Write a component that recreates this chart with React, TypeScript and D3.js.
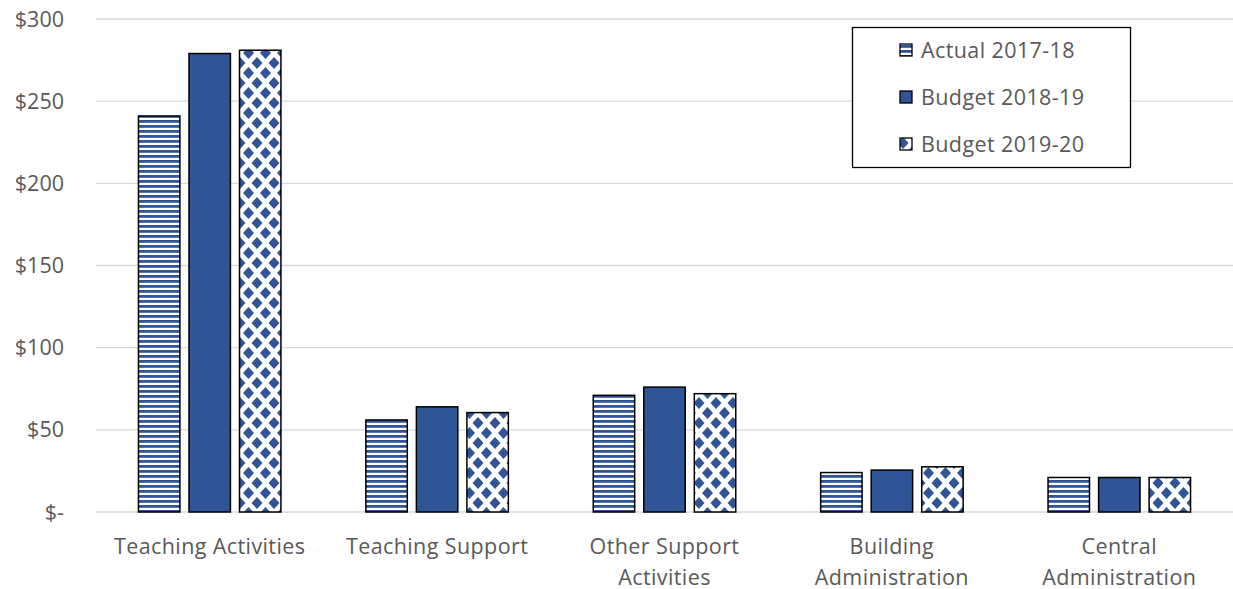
import React from "react";
import * as d3 from "d3";

const categories = [
  ["Teaching Activities"],
  ["Teaching Support"],
  ["Other Support", "Activities"],
  ["Building", "Administration"],
  ["Central", "Administration"],
];
const seriesNames = ["Actual 2017-18", "Budget 2018-19", "Budget 2019-20"];
const actual1718 = [241, 56, 71, 24, 21];
const budget1819 = [279, 64, 76, 25.5, 21];
const budget1920 = [281, 60.5, 72, 27.5, 21];
const yTicks = [0, 50, 100, 150, 200, 250, 300];
const yTickLabels = ["$-", "$50", "$100", "$150", "$200", "$250", "$300"];

const W = 1233;
const H = 589;
const BLUE = "#2F5597";
const FONT = "'Open Sans', 'Noto Sans', sans-serif";
const FS = 21.5;
const LS = 0.4;

export default function App() {
  const seriesValues = [actual1718, budget1819, budget1920];
  const fills = ["url(#stripes)", BLUE, "url(#diamonds)"];
  const x0 = d3
    .scaleBand<number>()
    .domain(categories.map((_, i) => i))
    .range([96, 1233])
    .padding(0);
  const groupW = 142.5;
  const x1 = d3
    .scaleBand<number>()
    .domain([0, 1, 2])
    .range([0, groupW])
    .paddingInner(0.18);
  const y = d3.scaleLinear().domain([0, 300]).range([512, 19]);

  const dia = (cx: number, cy: number, rx = 5.5, ry = 6) =>
    `M${cx},${cy - ry} L${cx + rx},${cy} L${cx},${cy + ry} L${cx - rx},${cy} Z`;

  return (
    <svg
      width={W}
      height={H}
      style={{ position: "absolute", left: 0, top: 0, background: "#fff" }}
      fontFamily={FONT}
    >
      <defs>
        <pattern id="stripes" width="8" height="5" patternUnits="userSpaceOnUse">
          <rect width="8" height="5" fill="#fff" />
          <rect y="0" width="8" height="2.8" fill={BLUE} />
        </pattern>
        <pattern id="diamonds" width="17" height="20" patternUnits="userSpaceOnUse" x="2" y="3">
          <rect width="17" height="20" fill="#fff" />
          <path d={dia(0, 0)} fill={BLUE} />
          <path d={dia(17, 0)} fill={BLUE} />
          <path d={dia(0, 20)} fill={BLUE} />
          <path d={dia(17, 20)} fill={BLUE} />
          <path d={dia(8.5, 10)} fill={BLUE} />
        </pattern>
      </defs>

      {yTicks.map((t, i) => (
        <g key={t}>
          <line x1={96} x2={1233} y1={y(t)} y2={y(t)} stroke="#d9d9d9" strokeWidth={1.3} />
          <text
            x={64}
            y={y(t)}
            dy="0.35em"
            textAnchor="end"
            fontSize={FS}
            fill="#595959"
          >
            {yTickLabels[i]}
          </text>
        </g>
      ))}

      {categories.map((cat, ci) => {
        const cx = (x0(ci) as number) + x0.bandwidth() / 2;
        const gx = cx - groupW / 2;
        return (
          <g key={ci}>
            {seriesValues.map((vals, si) => (
              <rect
                key={si}
                x={gx + (x1(si) as number)}
                y={y(vals[ci])}
                width={x1.bandwidth()}
                height={y(0) - y(vals[ci])}
                fill={fills[si]}
                stroke="#000"
                strokeWidth={1.5}
              />
            ))}
            {cat.map((line, li) => (
              <text
                key={li}
                x={cx}
                y={554 + li * 30.5}
                textAnchor="middle"
                fontSize={FS}
                letterSpacing={LS}
                fill="#595959"
              >
                {line}
              </text>
            ))}
          </g>
        );
      })}

      <g>
        <rect x={852.5} y={27.5} width={278} height={140} fill="#fff" stroke="#000" strokeWidth={1.3} />
        {seriesNames.map((name, i) => {
          const ly = 50 + i * 47;
          return (
            <g key={name}>
              <rect
                x={900}
                y={ly - 6}
                width={12}
                height={12}
                fill={fills[i]}
                stroke="#000"
                strokeWidth={1.3}
              />
              <text x={921} y={ly} dy="0.35em" fontSize={FS} letterSpacing={LS} fill="#595959">
                {name}
              </text>
            </g>
          );
        })}
      </g>
    </svg>
  );
}
